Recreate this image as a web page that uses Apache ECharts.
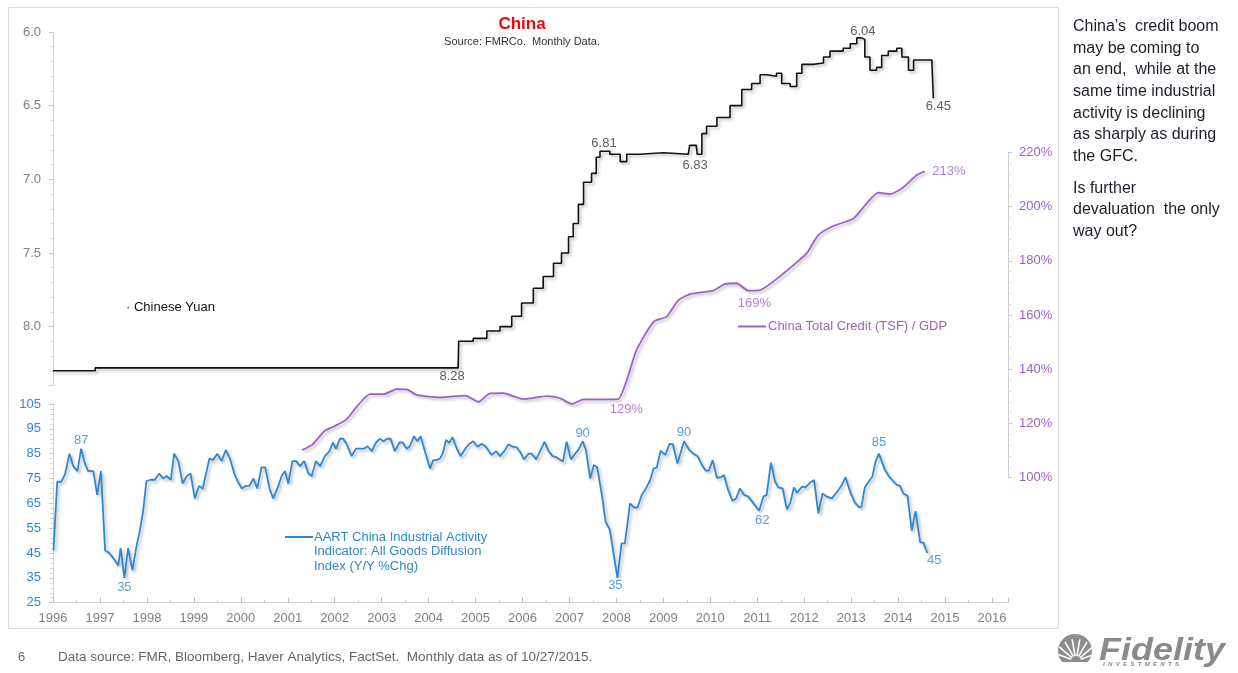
<!DOCTYPE html>
<html>
<head>
<meta charset="utf-8">
<script src="https://cdn.jsdelivr.net/npm/echarts@6/dist/echarts.min.js"></script>
<style>
html,body{margin:0;padding:0;background:#fff;}
#chart{width:1238px;height:673px;}
</style>
</head>
<body>
<div id="chart"></div>
<script>
// ---------- DATA ----------
const yuanYears = [1996.00,1996.40,1996.90,1998.00,2004.50,2004.63,2004.64,2004.95,2005.24,2005.52,2005.77,2005.98,2006.23,2006.44,2006.66,2006.83,2006.98,2007.08,2007.19,2007.30,2007.47,2007.57,2007.65,2007.86,2008.08,2008.22,2008.50,2009.00,2009.53,2009.56,2009.70,2009.72,2009.82,2009.92,2010.14,2010.42,2010.67,2010.88,2011.06,2011.20,2011.41,2011.52,2011.70,2011.84,2011.95,2012.19,2012.41,2012.55,2012.83,2012.98,2013.12,2013.22,2013.29,2013.40,2013.54,2013.65,2013.79,2013.97,2014.08,2014.22,2014.33,2014.54,2014.72,2014.75];
const yuanValues = [8.30,8.30,8.28,8.28,8.28,8.28,8.10,8.08,8.03,8.00,7.93,7.84,7.74,7.66,7.57,7.50,7.39,7.30,7.17,7.02,6.96,6.85,6.81,6.83,6.88,6.83,6.82,6.83,6.82,6.77,6.77,6.83,6.69,6.64,6.58,6.50,6.39,6.35,6.29,6.30,6.28,6.35,6.37,6.28,6.22,6.21,6.17,6.13,6.11,6.08,6.04,6.05,6.17,6.26,6.24,6.16,6.13,6.11,6.17,6.26,6.19,6.19,6.21,6.45];

const creditYears = [2001.30,2001.51,2001.79,2001.97,2002.25,2002.47,2002.75,2003.04,2003.32,2003.53,2003.75,2004.24,2004.78,2005.06,2005.31,2005.59,2006.02,2006.52,2006.80,2007.05,2007.30,2007.79,2008.04,2008.22,2008.43,2008.79,2009.07,2009.32,2009.57,2010.06,2010.31,2010.56,2010.81,2011.06,2011.34,2011.77,2012.05,2012.30,2012.62,2013.05,2013.33,2013.58,2013.83,2014.08,2014.40,2014.57];
const creditValues = [110.2,112,117.3,118.8,121.5,126.2,130.8,130.8,132.7,132.6,130.5,129.6,130.3,128.0,131.1,131.2,129.0,130.1,129.3,127.2,128.9,128.9,129,136,147.1,157.5,159.4,165.5,167.7,169,171.4,171.7,169,169.2,172.3,178.4,182.7,189.5,192.8,195.6,201.2,205.1,204.6,206.7,211.6,213];

const aartYears = [1996.01,1996.09,1996.18,1996.26,1996.35,1996.43,1996.52,1996.60,1996.68,1996.75,1996.86,1996.94,1997.02,1997.11,1997.20,1997.32,1997.39,1997.44,1997.52,1997.60,1997.69,1997.78,1997.84,1997.92,1997.99,1998.08,1998.17,1998.26,1998.35,1998.42,1998.51,1998.58,1998.67,1998.76,1998.85,1998.93,1999.02,1999.11,1999.19,1999.33,1999.41,1999.50,1999.59,1999.68,1999.77,1999.86,1999.93,2000.02,2000.10,2000.18,2000.27,2000.35,2000.44,2000.52,2000.61,2000.69,2000.80,2000.87,2000.94,2001.01,2001.10,2001.18,2001.26,2001.35,2001.44,2001.51,2001.60,2001.69,2001.79,2001.89,2001.96,2002.03,2002.11,2002.18,2002.25,2002.36,2002.45,2002.54,2002.62,2002.70,2002.79,2002.88,2002.96,2003.04,2003.12,2003.19,2003.28,2003.38,2003.45,2003.53,2003.60,2003.69,2003.76,2003.83,2003.92,2004.03,2004.10,2004.17,2004.24,2004.30,2004.37,2004.44,2004.51,2004.60,2004.68,2004.78,2004.87,2004.95,2005.04,2005.13,2005.22,2005.34,2005.44,2005.52,2005.61,2005.70,2005.79,2005.88,2005.96,2006.03,2006.13,2006.20,2006.29,2006.37,2006.47,2006.55,2006.64,2006.73,2006.86,2006.94,2007.03,2007.12,2007.19,2007.28,2007.35,2007.44,2007.52,2007.59,2007.69,2007.77,2007.86,2008.02,2008.11,2008.18,2008.29,2008.38,2008.45,2008.54,2008.63,2008.72,2008.79,2008.86,2008.94,2009.04,2009.13,2009.20,2009.30,2009.44,2009.55,2009.64,2009.73,2009.82,2009.90,2009.97,2010.05,2010.14,2010.24,2010.29,2010.38,2010.47,2010.55,2010.63,2010.72,2010.81,2010.92,2011.04,2011.13,2011.20,2011.29,2011.38,2011.45,2011.54,2011.63,2011.70,2011.78,2011.85,2011.95,2012.03,2012.12,2012.21,2012.30,2012.39,2012.48,2012.59,2012.73,2012.80,2012.88,2012.99,2013.08,2013.17,2013.22,2013.29,2013.37,2013.45,2013.52,2013.59,2013.63,2013.72,2013.81,2013.89,2013.97,2014.04,2014.11,2014.20,2014.29,2014.37,2014.47,2014.54,2014.62];
const aartValues = [46,73.7,73.7,77,85,80,78,87,81,78,78,68.4,78,46,45,42,40,47,35,47,38,48,53,62,74,74.5,74.5,77,75,76,74.5,85,82,73,76,77,67,72,71,83,82.5,85,82,86.5,83,77,74,71,72,72,75,71,79.5,79.5,71,67,72,76,78,73,82,82,80,82,77,76,82,80,84,86,89.5,87,91,91,89,84,87,87,87,88,86,89.5,91,90,91,91,86,89.5,89.5,87,88,92,90,92,86,79,82.4,82.4,83,85,90.5,89.4,91.6,87,84,87,89,90,87.8,89,87.8,84.5,86,84,86,88.8,87.8,87.5,85.4,82.7,85,85,82.7,85.8,89.8,86.2,84,83.5,81.8,89.8,82.7,85,86.5,90,86.5,75,80.4,79.5,68.4,57.6,54.3,35,48.9,48.9,65,63.3,63.3,68.4,71,74.4,79,79.5,86.2,84.5,88.9,88.9,81,90,86.5,85,84,80.4,78.2,78.2,82.4,75.3,75.7,76.4,70.4,66,67,71,68.4,67.7,65,62,67.7,68.4,81.4,73.7,71.4,71,62.6,65,71.4,69.3,71.7,71.4,73.3,74.4,61,69,67.7,67,70.4,72.4,75.5,69,65.3,63.4,63.7,71.4,73.7,75.7,81.8,85,85,78.4,75.7,74.1,72.4,72,69,68,54,61.9,49.3,49.2,45];

// annotated points (by year; value taken from series)
const yuanNoteYears = [2004.50,2007.65,2009.72,2013.12,2014.75];
const creditNoteYears = [2008.04,2010.81,2014.57];
const aartNoteYears = [1996.60,1997.52,2007.28,2008.02,2009.44,2011.04,2013.59,2014.62];

// ---------- STYLE ----------
const yuanNoteOffsets = [[0,9],[4,-8],[-2,11],[6,-6],[5,8]];
const creditNoteOffsets = [[8,10],[6,13],[24,0]];
const aartNoteOffsets = [[0,-8],[0,10],[0,-8],[-2,8],[0,-9],[3,10],[0,-11],[7,7]];

const FONT = "'Liberation Sans', Arial, sans-serif";
const BLUE = '#2f87d3', PURPLE = '#9a62c9', GREY = '#7f7f7f', AXIS = '#cfcfcf';
const X_MIN = 1996, X_MAX = 2016.34;

const pairs = (xs, ys) => xs.map((x, i) => [x, ys[i]]);
function notes(xs, ys, noteYears, offsets, fmt, color) {
  return noteYears.map((yr, k) => {
    const i = xs.indexOf(yr);
    return {
      value: [xs[i], ys[i]],
      label: { show: true, position: 'inside', offset: offsets[k], formatter: fmt(ys[i]),
               color: color, fontSize: 13, fontFamily: FONT }
    };
  });
}
const shadow = { shadowColor: 'rgba(0,0,0,0.28)', shadowBlur: 3, shadowOffsetX: 2, shadowOffsetY: 2 };

const gridLeft = 53, gridWidth = 955;
const chart = echarts.init(document.getElementById('chart'), null, { renderer: 'canvas' });

function hiddenX(gi) {
  return { type: 'value', gridIndex: gi, min: X_MIN, max: X_MAX, show: false };
}

const option = {
  animation: false,
  backgroundColor: '#fff',
  grid: [
    { left: gridLeft, width: gridWidth, top: 32, height: 353.5 },
    { left: gridLeft, width: gridWidth, top: 152.3, height: 325.4 },
    { left: gridLeft, width: gridWidth, top: 404, height: 198.7 }
  ],
  xAxis: [
    hiddenX(0), hiddenX(1),
    { type: 'value', gridIndex: 2, min: X_MIN, max: X_MAX, interval: 1,
      axisLine: { lineStyle: { color: AXIS } },
      axisTick: { inside: true, length: 5, lineStyle: { color: '#bdbdbd' },
        interval: 0 },
      minorTick: { show: true, splitNumber: 2, length: 3, lineStyle: { color: '#cfcfcf' } },
      splitLine: { show: false },
      axisLabel: { color: GREY, fontSize: 13, fontFamily: FONT, margin: 9,
        formatter: v => Math.abs(v - Math.round(v)) < 1e-6 ? String(Math.round(v)) : '' } }
  ],
  yAxis: [
    { type: 'value', gridIndex: 0, inverse: true, min: 6.0, max: 8.4, interval: 0.5,
      axisLine: { show: true, lineStyle: { color: AXIS } },
      axisTick: { show: true, length: 4, lineStyle: { color: '#c8c8c8' } },
      minorTick: { show: true, splitNumber: 5, length: 3, lineStyle: { color: '#dadada' } },
      splitLine: { show: false },
      axisLabel: { color: GREY, fontSize: 13, fontFamily: FONT, margin: 12,
        formatter: v => (Math.abs(v * 2 - Math.round(v * 2)) < 1e-6 && v <= 8.0001) ? v.toFixed(1) : '' } },
    { type: 'value', gridIndex: 1, position: 'right', min: 100, max: 220, interval: 20,
      axisLine: { show: true, lineStyle: { color: AXIS } },
      axisTick: { show: true, length: 4, lineStyle: { color: '#c8c8c8' } },
      minorTick: { show: true, splitNumber: 5, length: 3, lineStyle: { color: '#dadada' } },
      splitLine: { show: false },
      axisLabel: { color: PURPLE, fontSize: 13, fontFamily: FONT, margin: 11, formatter: v => v + '%' } },
    { type: 'value', gridIndex: 2, min: 25, max: 105, interval: 10,
      axisLine: { show: true, lineStyle: { color: AXIS } },
      axisTick: { show: true, length: 4, lineStyle: { color: '#c8c8c8' } },
      minorTick: { show: true, splitNumber: 5, length: 3, lineStyle: { color: '#dadada' } },
      splitLine: { show: false },
      axisLabel: { color: BLUE, fontSize: 13, fontFamily: FONT, margin: 12 } }
  ],
  series: [
    { name: 'Chinese Yuan', type: 'line', xAxisIndex: 0, yAxisIndex: 0, showSymbol: false, step: 'end',
      data: pairs(yuanYears, yuanValues),
      lineStyle: Object.assign({ color: '#111', width: 1.6 }, shadow), z: 3 },
    { name: 'China Total Credit (TSF) / GDP', type: 'line', xAxisIndex: 1, yAxisIndex: 1, showSymbol: false,
      data: pairs(creditYears, creditValues), smooth: 0.2,
      lineStyle: Object.assign({ color: PURPLE, width: 1.8 }, shadow), z: 2 },
    { name: 'AART', type: 'line', xAxisIndex: 2, yAxisIndex: 2, showSymbol: false,
      data: pairs(aartYears, aartValues),
      lineStyle: Object.assign({ color: BLUE, width: 1.8 }, shadow), z: 2 },
    { type: 'scatter', xAxisIndex: 0, yAxisIndex: 0, symbolSize: 1, itemStyle: { color: 'rgba(0,0,0,0)' },
      data: notes(yuanYears, yuanValues, yuanNoteYears, yuanNoteOffsets, v => v.toFixed(2), '#333'), z: 5 },
    { type: 'scatter', xAxisIndex: 1, yAxisIndex: 1, symbolSize: 1, itemStyle: { color: 'rgba(0,0,0,0)' },
      data: notes(creditYears, creditValues, creditNoteYears, creditNoteOffsets, v => Math.round(v) + '%', PURPLE), z: 5 },
    { type: 'scatter', xAxisIndex: 2, yAxisIndex: 2, symbolSize: 1, itemStyle: { color: 'rgba(0,0,0,0)' },
      data: notes(aartYears, aartValues, aartNoteYears, aartNoteOffsets, v => String(Math.round(v)), BLUE), z: 5 }
  ],
  graphic: []
};

function txt(x, y, text, opts) {
  opts = opts || {};
  return { type: 'text', z: 10, silent: true,
    style: { x: x, y: y, text: text,
      font: opts.font || ('13px ' + FONT), fill: opts.fill || '#333',
      align: opts.align || 'left', textAlign: opts.align || 'left',
      verticalAlign: 'middle', textVerticalAlign: 'middle' } };
}
const G = option.graphic;
// frame
G.push({ type: 'rect', z: 0, silent: true, shape: { x: 8.5, y: 7.5, width: 1050, height: 621 },
  style: { fill: 'none', stroke: '#dcdcdc', lineWidth: 1 } });
// title
G.push(txt(522, 24, 'China', { font: 'bold 17px ' + FONT, fill: '#ff0000', align: 'center' }));
G.push(txt(522, 42, 'Source: FMRCo.  Monthly Data.', { font: '11px ' + FONT, fill: '#333', align: 'center' }));
// legends
G.push(txt(126, 307, '\u00b7 Chinese Yuan', { font: '13px ' + FONT, fill: '#111' }));
G.push({ type: 'line', z: 10, silent: true, shape: { x1: 738, y1: 326.5, x2: 766, y2: 326.5 }, style: { stroke: PURPLE, lineWidth: 2 } });
G.push(txt(768, 326.5, 'China Total Credit (TSF) / GDP', { font: '13px ' + FONT, fill: PURPLE }));
G.push({ type: 'line', z: 10, silent: true, shape: { x1: 285, y1: 537, x2: 313, y2: 537 }, style: { stroke: BLUE, lineWidth: 2 } });
G.push(txt(314, 537, 'AART China Industrial Activity', { font: '13px ' + FONT, fill: BLUE }));
G.push(txt(314, 551.5, 'Indicator: All Goods Diffusion', { font: '13px ' + FONT, fill: BLUE }));
G.push(txt(314, 566, 'Index (Y/Y %Chg)', { font: '13px ' + FONT, fill: BLUE }));
// side commentary
const sideLines = ['China\u2019s  credit boom', 'may be coming to', 'an end,  while at the', 'same time industrial',
  'activity is declining', 'as sharply as during', 'the GFC.'];
const sideY = [27, 48.5, 70, 91.7, 113.3, 135, 156.5];
sideLines.forEach((s, i) => G.push(txt(1073, sideY[i], s, { font: '16px ' + FONT, fill: '#1e1e2a' })));
const side2 = ['Is further', 'devaluation  the only', 'way out?'];
const side2Y = [188.5, 210, 231.7];
side2.forEach((s, i) => G.push(txt(1073, side2Y[i], s, { font: '16px ' + FONT, fill: '#1e1e2a' })));
// footer
G.push(txt(18, 657, '6', { font: '13px ' + FONT, fill: '#666' }));
G.push(txt(58, 657, 'Data source: FMR, Bloomberg, Haver Analytics, FactSet.  Monthly data as of 10/27/2015.', { font: '13.5px ' + FONT, fill: '#666' }));
// Fidelity logo
G.push({ type: 'circle', z: 10, silent: true, shape: { cx: 1075, cy: 651, r: 17 }, style: { fill: '#8d8d8d' } });
const rays = [-160, -140, -120, -100, -80, -60, -40, -20];
rays.forEach(a => {
  const r = a * Math.PI / 180;
  G.push({ type: 'line', z: 11, silent: true,
    shape: { x1: 1076 + Math.cos(r) * 5, y1: 661 + Math.sin(r) * 5, x2: 1076 + Math.cos(r) * 22, y2: 661 + Math.sin(r) * 22 },
    style: { stroke: '#fff', lineWidth: 1.6 } });
});
G.push({ type: 'rect', z: 11, silent: true, shape: { x: 1055, y: 662, width: 42, height: 8 }, style: { fill: '#fff' } });
G.push({ type: 'text', z: 12, silent: true, x: 1099, y: 651, scaleX: 1.16,
  style: { x: 0, y: 0, text: 'Fidelity', font: 'italic bold 31px ' + FONT, fill: '#8a8a8a',
    align: 'left', textAlign: 'left', verticalAlign: 'middle', textVerticalAlign: 'middle' } });
G.push(txt(1103, 664, 'I  N  V  E  S  T  M  E  N  T  S', { font: 'italic bold 6px ' + FONT, fill: '#8a8a8a' }));

chart.setOption(option);
</script>
</body>
</html>
